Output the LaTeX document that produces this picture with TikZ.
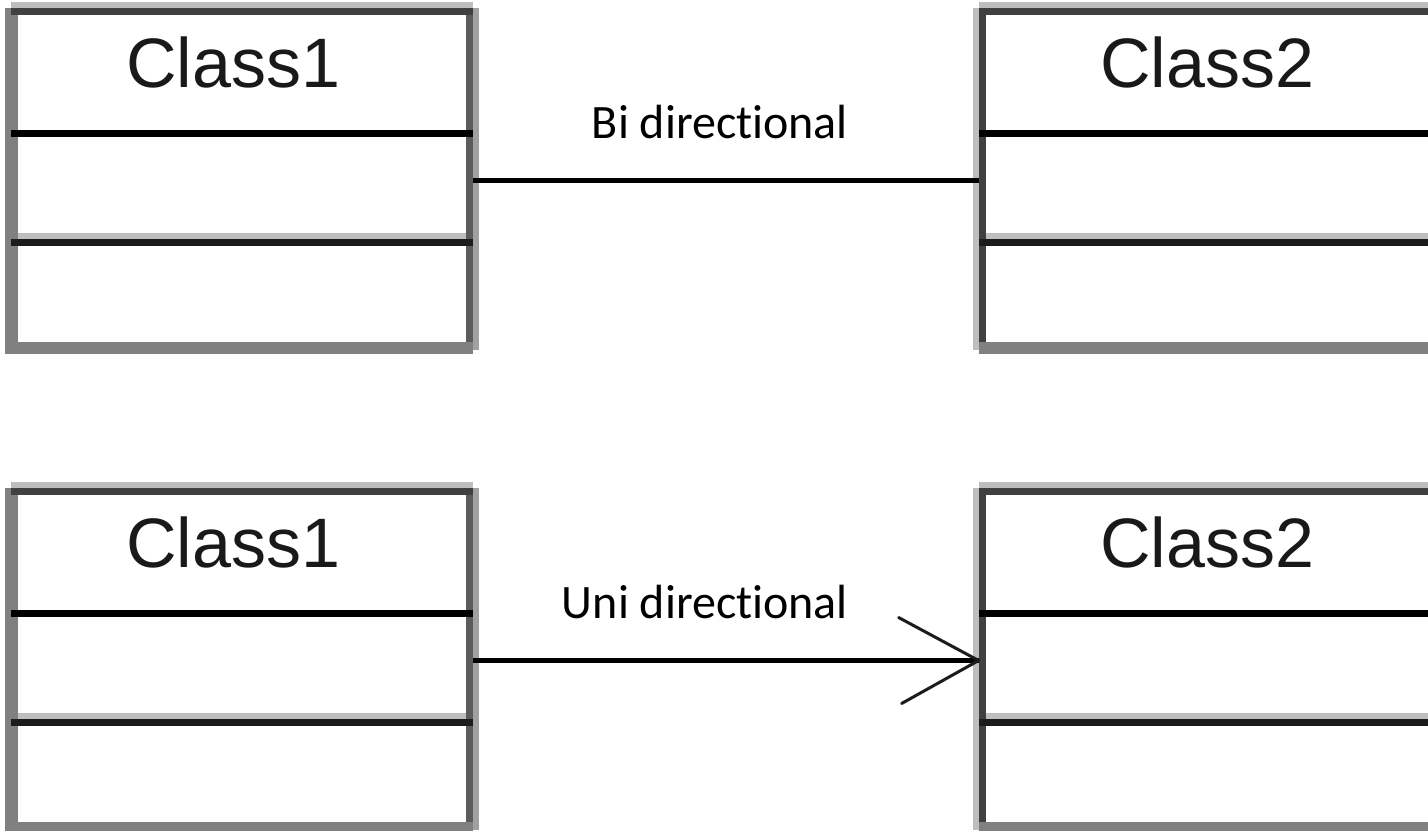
\documentclass[tikz,border=0pt]{standalone}
\usepackage{fontspec}
\newfontfamily\classfont{Liberation Sans}
\newfontfamily\labelfont[Ligatures=NoCommon]{Carlito}
\definecolor{gA}{gray}{0.745}
\definecolor{gB}{gray}{0.63}
\definecolor{gC}{gray}{0.5}
\definecolor{gD}{gray}{0.36}
\definecolor{gE}{gray}{0.25}
\definecolor{gF}{gray}{0.11}
\tikzset{
  classarea/.style={draw=none,inner sep=0pt,minimum width=231pt,minimum height=168.5pt},
  classname/.style={anchor=base,inner sep=0pt,font=\classfont\fontsize{35}{42}\selectfont,text=black!90},
  assoclabel/.style={anchor=base,inner sep=0pt,font=\labelfont\fontsize{24}{29}\selectfont},
  assoc/.style={draw=black,line width=2.75pt},
  barb/.style={draw=gF,line width=1.5pt,line cap=round}
}
% frame of a class box; #1,#2 shift; #3 = 1 (grey left side) or 2 (light/dark left side)
\newcommand\umlframe[3]{%
  \begin{scope}[shift={(#1,#2)}]
    \ifnum#3=1
      \fill[gC] (5,8) rectangle (18,354);
    \else
      \fill[gA] (5,8) rectangle (11,350);
      \fill[gE] (11,8) rectangle (18,347);
    \fi
    \fill[gD] (466,8) rectangle (473,342);
    \fill[gB] (473,8) rectangle (479,350);
    \fill[gA] (11,2) rectangle (473,8);
    \fill[gE] (11,8) rectangle (473,15);
    \fill[gC] (11,342) rectangle (473,354);
    \fill[black] (11,130) rectangle (473,137);
    \fill[gA] (18,233) rectangle (466,239);
    \fill[gF] (11,239) rectangle (473,246);
  \end{scope}}
\begin{document}
\begin{tikzpicture}[x=0.5pt,y=-0.5pt]
  \useasboundingbox (0,0) rectangle (1428,830);
  \fill[white] (0,0) rectangle (1428,830);
  \clip (0,0) rectangle (1428,830);

  \umlframe{0}{0}{1}
  \umlframe{968}{0}{2}
  \umlframe{0}{480}{1}
  \umlframe{968}{480}{2}

  \node[classarea] (c1)  at (242,180.5) {};
  \node[classarea] (c2)  at (1210,180.5) {};
  \node[classarea] (c1b) at (242,660.5) {};
  \node[classarea] (c2b) at (1210,660.5) {};

  \node[classname] (n1)  at (233,87)  {Class1};
  \node[classname] (n2)  at (1207,87) {Class2};
  \node[classname] (n1b) at (233,567) {Class1};
  \node[classname] (n2b) at (1207,567) {Class2};

  \node[assoclabel] (lb) at (720,138) {Bi directional};
  \node[assoclabel] (lu) at (705,618) {Uni directional};

  \draw[assoc] (c1.east) -- (c2.west);
  \draw[assoc] (c1b.east) -- (c2b.west);
  \draw[barb] (c2b.west) -- ++(-80,-43) (c2b.west) -- ++(-77,43);
\end{tikzpicture}
\end{document}
